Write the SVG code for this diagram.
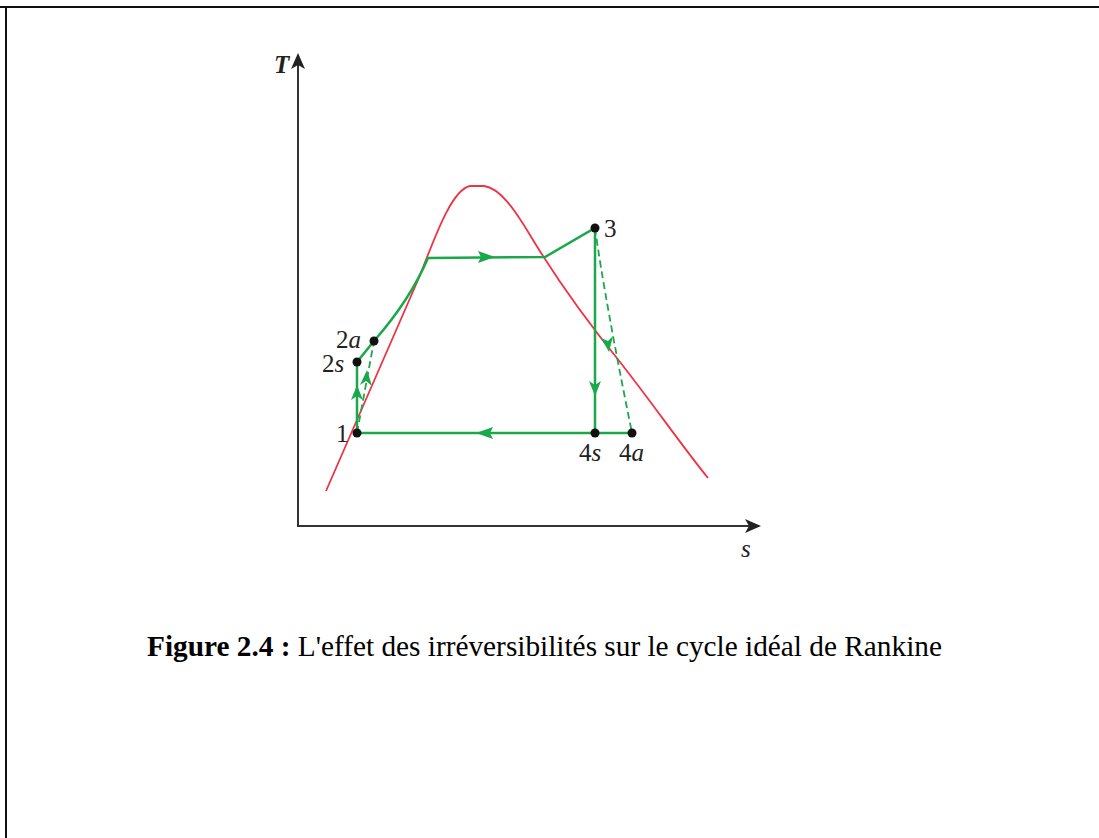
<svg xmlns="http://www.w3.org/2000/svg" width="1099" height="838" viewBox="0 0 1099 838">
<style>
.ax{stroke:#333;stroke-width:2;fill:none}
.g{stroke:#1aa84a;stroke-width:2.5;fill:none}
.gd{stroke:#1aa84a;stroke-width:1.8;fill:none;stroke-dasharray:7,4}
.red{stroke:#ee3344;stroke-width:1.8;fill:none}
.lbl{font-family:"Liberation Serif",serif;font-size:25px;fill:#222}
.cap{font-family:"Liberation Serif",serif;font-size:29.3px;fill:#000}
.dot{fill:#111}
.ga{fill:#1aa84a}
</style>
<defs>
<marker id="axh" markerWidth="16" markerHeight="14" refX="14" refY="7" orient="auto" markerUnits="userSpaceOnUse">
<path d="M0,0 L16,7 L0,14 L4,7 Z" fill="#222"/>
</marker>
</defs>
<g id="frame">
<line x1="0" y1="7" x2="1099" y2="7" stroke="#111" stroke-width="2"/>
<line x1="6" y1="6" x2="6" y2="838" stroke="#111" stroke-width="2"/>
</g>
<g id="axes">
<line class="ax" x1="298" y1="527" x2="298" y2="55" marker-end="url(#axh)"/>
<line class="ax" x1="297" y1="526" x2="759" y2="526" marker-end="url(#axh)"/>
<text class="lbl" x="274" y="73" font-style="italic" font-weight="bold">T</text>
<text class="lbl" x="741" y="557" font-style="italic">s</text>
</g>
<g id="dome">
<path class="red" d="M326,491 L418,280 C432,246 450,190 470,186 L484,186 C500,188 515,210 530,235 C560,285 590,325 620,362 C650,400 685,450 708,478"/>
</g>
<g id="connectors">
<path class="g" d="M357,433 L357,362 L374,341 Q410,300 428,258 L545,257 L595,228 L595,433"/>
<line class="g" x1="357" y1="433" x2="632" y2="433"/>
<path class="gd" d="M357,433 L374,341"/>
<path class="gd" d="M595,228 Q605,300 632,433"/>
<path class="ga" d="M357,385 L351,400 L357,396 L363,400 Z"/>
<path class="ga" d="M367,370 L360,385 L366,381 L372,386 Z"/>
<path class="ga" d="M495,257 L478,251 L481,257 L478,263 Z"/>
<path class="ga" d="M595,396 L589,381 L595,385 L601,381 Z"/>
<path class="ga" d="M609,352 L601,338 L608,341 L613,336 Z"/>
<path class="ga" d="M476,433 L493,427 L490,433 L493,439 Z"/>
</g>
<g id="p1"><circle class="dot" cx="357" cy="433" r="4.5"/><text class="lbl" x="336" y="442">1</text></g>
<g id="p2s"><circle class="dot" cx="357" cy="362" r="4.5"/><text class="lbl" x="322" y="372">2<tspan font-style="italic">s</tspan></text></g>
<g id="p2a"><circle class="dot" cx="374" cy="341" r="4.5"/><text class="lbl" x="336" y="348">2<tspan font-style="italic">a</tspan></text></g>
<g id="p3"><circle class="dot" cx="595" cy="228" r="4.5"/><text class="lbl" x="604" y="237">3</text></g>
<g id="p4s"><circle class="dot" cx="595" cy="433" r="4.5"/><text class="lbl" x="579" y="461">4<tspan font-style="italic">s</tspan></text></g>
<g id="p4a"><circle class="dot" cx="632" cy="433" r="4.5"/><text class="lbl" x="619" y="461">4<tspan font-style="italic">a</tspan></text></g>
<g id="caption">
<text class="cap" x="147" y="656"><tspan font-weight="bold">Figure 2.4 :</tspan> L'effet des irréversibilités sur le cycle idéal de Rankine</text>
</g>
</svg>
